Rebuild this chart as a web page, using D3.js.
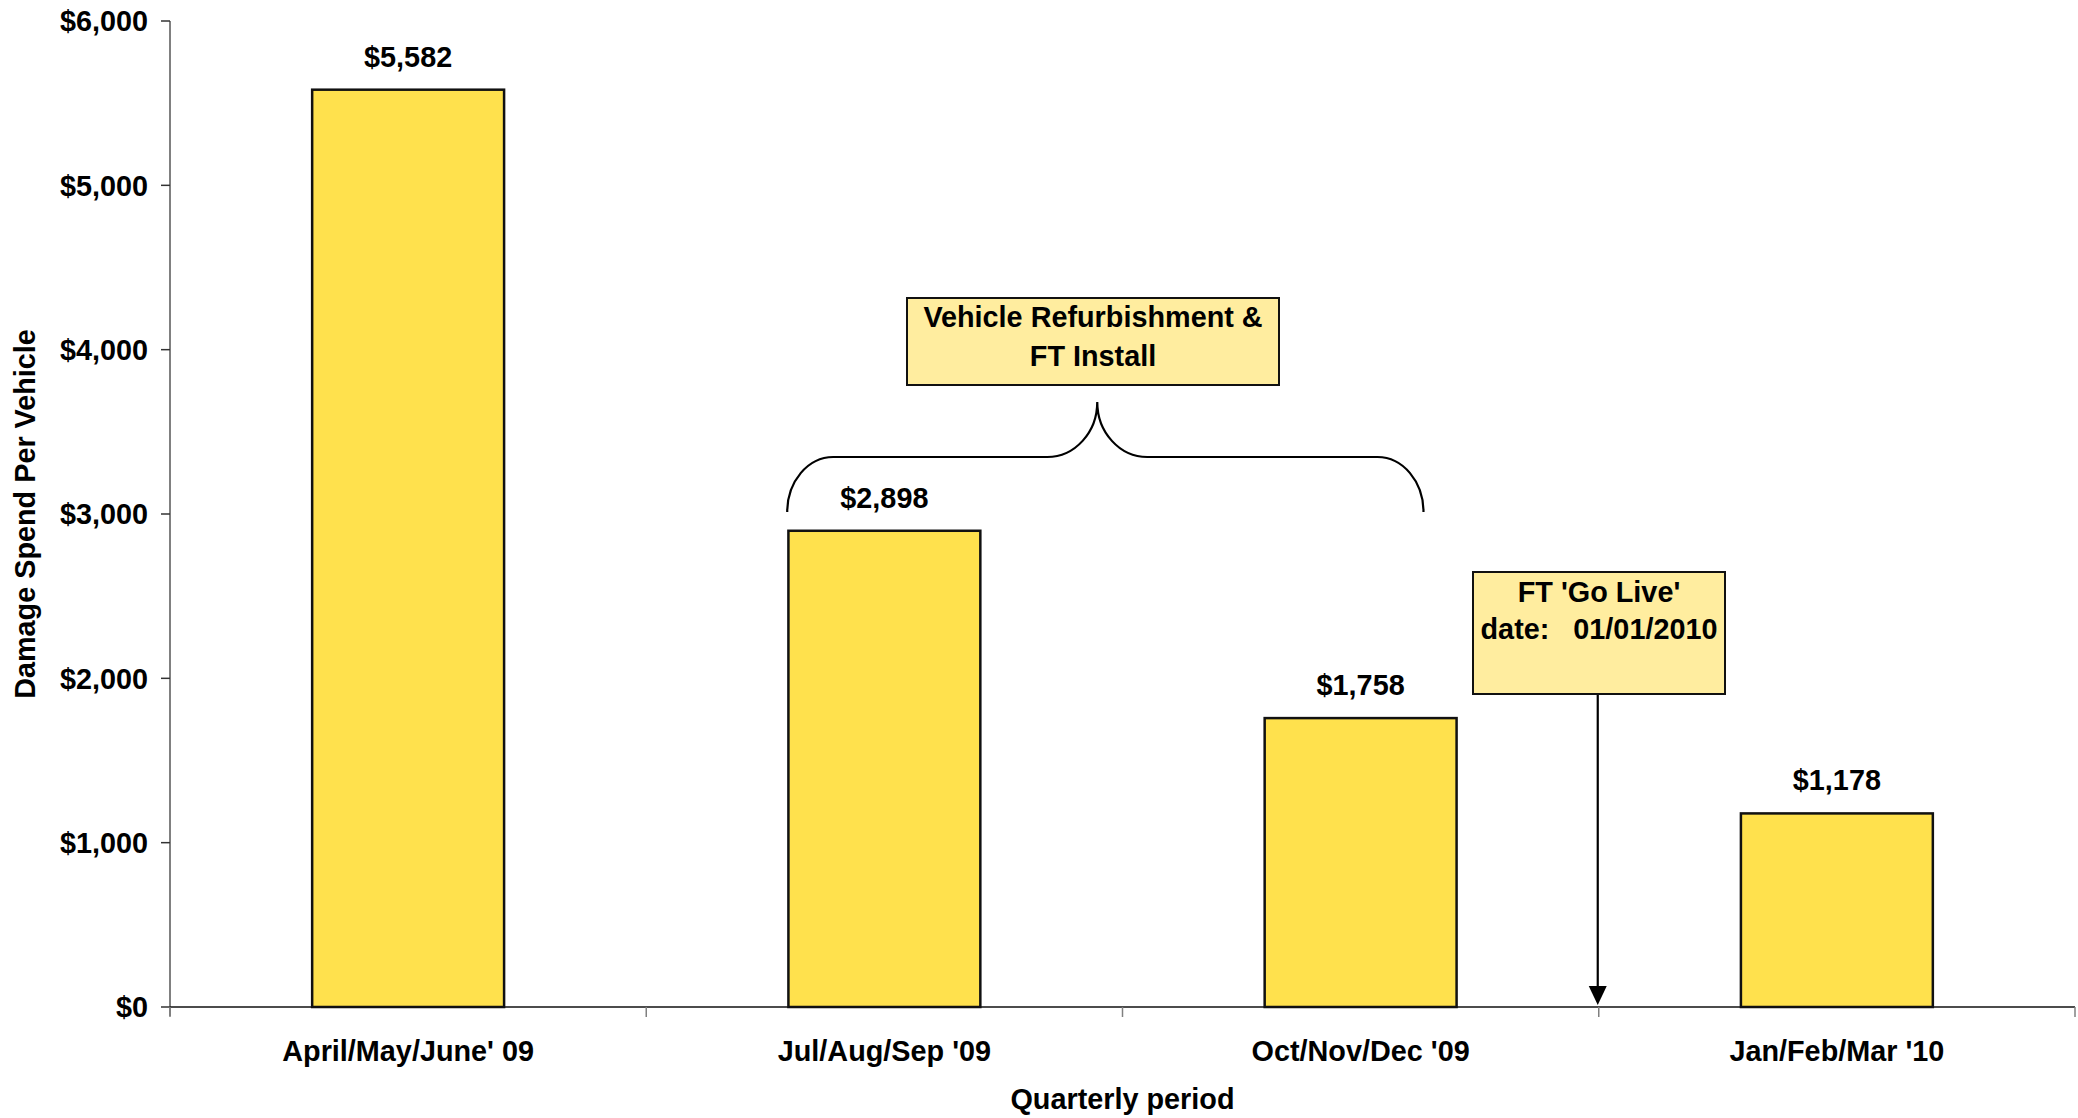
<!DOCTYPE html>
<html>
<head>
<meta charset="utf-8">
<script src="https://cdn.jsdelivr.net/npm/d3@7"></script>
<style>
  html, body { margin: 0; padding: 0; background: #fff; }
  svg { display: block; }
  text { font-family: "Liberation Sans", Arial, sans-serif; font-weight: bold; fill: #000; }
</style>
</head>
<body>
<script>
// ---- data ----
const categories = ["April/May/June' 09", "Jul/Aug/Sep '09", "Oct/Nov/Dec '09", "Jan/Feb/Mar '10"];
const values = [5582, 2898, 1758, 1178];
const yTickValues = [0, 1000, 2000, 3000, 4000, 5000, 6000];
const yTitle = "Damage Spend Per Vehicle";
const xTitle = "Quarterly period";
const note1Lines = ["Vehicle Refurbishment &", "FT Install"];
const note2Lines = ["FT 'Go Live'", "date:\u00A0\u00A0\u00A001/01/2010"];

(function () {
// ---- layout ----
const W = 2078, H = 1118;
const mLeft = 170, mRight = 2075, mTop = 21, mBottom = 1007;
const FS = 28.8;

const svg = d3.select("body").append("svg").attr("width", W).attr("height", H);

const x = d3.scaleBand().domain(categories).range([mLeft, mRight]).padding(0);
const y = d3.scaleLinear().domain([0, 6000]).range([mBottom, mTop]);
const bw = x.bandwidth();
const barW = bw * 0.403;
const fmt = v => "$" + d3.format(",")(v);

// y axis line
svg.append("line").attr("x1", mLeft).attr("x2", mLeft).attr("y1", mTop).attr("y2", mBottom + 9)
  .attr("stroke", "#808080").attr("stroke-width", 2);
// y ticks
svg.selectAll(".ytick").data(yTickValues).enter().append("line")
  .attr("x1", mLeft - 9).attr("x2", mLeft).attr("y1", d => y(d)).attr("y2", d => y(d))
  .attr("stroke", "#333").attr("stroke-width", 1.5);
svg.selectAll(".ylab").data(yTickValues).enter().append("text")
  .attr("x", mLeft - 22).attr("y", d => y(d)).attr("dy", "0.36em")
  .attr("text-anchor", "end").attr("font-size", FS).text(fmt);

// bars
svg.selectAll(".bar").data(values).enter().append("rect")
  .attr("x", (d, i) => x(categories[i]) + (bw - barW) / 2)
  .attr("y", d => y(d))
  .attr("width", barW)
  .attr("height", d => y(0) - y(d))
  .attr("fill", "#FFE14D").attr("stroke", "#111").attr("stroke-width", 2.5);

// bar labels
svg.selectAll(".blab").data(values).enter().append("text")
  .attr("x", (d, i) => x(categories[i]) + bw / 2)
  .attr("y", d => y(d) - 23)
  .attr("text-anchor", "middle").attr("font-size", FS).text(fmt);

// x axis line
svg.append("line").attr("x1", mLeft).attr("x2", mRight).attr("y1", mBottom).attr("y2", mBottom)
  .attr("stroke", "#111").attr("stroke-width", 1.5);
// x ticks at band boundaries
const bounds = categories.map(c => x(c)).concat([mRight]);
svg.selectAll(".xtick").data(bounds).enter().append("line")
  .attr("x1", d => d).attr("x2", d => d).attr("y1", mBottom).attr("y2", mBottom + 10)
  .attr("stroke", "#808080").attr("stroke-width", 1.5);
svg.selectAll(".xlab").data(categories).enter().append("text")
  .attr("x", d => x(d) + bw / 2).attr("y", 1061)
  .attr("text-anchor", "middle").attr("font-size", FS).text(d => d);

// axis titles
svg.append("text").attr("x", (mLeft + mRight) / 2).attr("y", 1109)
  .attr("text-anchor", "middle").attr("font-size", FS).text(xTitle);
svg.append("text").attr("transform", `translate(35, ${(mTop + mBottom) / 2}) rotate(-90)`)
  .attr("text-anchor", "middle").attr("font-size", FS).text(yTitle);

// ---- annotation 1: brace + box ----
const bx0 = x(categories[1]) + 0.296 * bw;   // left end
const bx1 = x(categories[2]) + 0.632 * bw;   // right end
const bpk = x(categories[1]) + 0.947 * bw;   // peak
const yEnd = 512, yH = 457, yPk = 402;
const k = 0.552;
const rx = 46, ry = yEnd - yH, px = 50, py = yH - yPk;
const brace = [
  `M ${bx0} ${yEnd}`,
  `C ${bx0} ${yEnd - k * ry}, ${bx0 + rx - k * rx} ${yH}, ${bx0 + rx} ${yH}`,
  `L ${bpk - px} ${yH}`,
  `C ${bpk - px + k * px} ${yH}, ${bpk} ${yPk + k * py}, ${bpk} ${yPk}`,
  `C ${bpk} ${yPk + k * py}, ${bpk + px - k * px} ${yH}, ${bpk + px} ${yH}`,
  `L ${bx1 - rx} ${yH}`,
  `C ${bx1 - rx + k * rx} ${yH}, ${bx1} ${yEnd - k * ry}, ${bx1} ${yEnd}`
].join(" ");
svg.append("path").attr("d", brace).attr("fill", "none").attr("stroke", "#000").attr("stroke-width", 2.2);

const b1 = { x0: 907, x1: 1279, y0: 298, y1: 385 };
svg.append("rect").attr("x", b1.x0).attr("y", b1.y0).attr("width", b1.x1 - b1.x0).attr("height", b1.y1 - b1.y0)
  .attr("fill", "#FFED9F").attr("stroke", "#111").attr("stroke-width", 2);
svg.selectAll(".n1").data(note1Lines).enter().append("text")
  .attr("x", (b1.x0 + b1.x1) / 2).attr("y", (d, i) => 327 + i * 39)
  .attr("text-anchor", "middle").attr("font-size", FS).text(d => d);

// ---- annotation 2: go-live box + arrow ----
const ax = x(categories[3]) - 1;
const b2 = { x0: 1473, x1: 1725, y0: 572, y1: 694 };
svg.append("line").attr("x1", ax).attr("x2", ax).attr("y1", b2.y1).attr("y2", 988)
  .attr("stroke", "#000").attr("stroke-width", 2.2);
svg.append("path").attr("d", `M ${ax - 9} 986 L ${ax + 9} 986 L ${ax} 1005 Z`).attr("fill", "#000");
svg.append("rect").attr("x", b2.x0).attr("y", b2.y0).attr("width", b2.x1 - b2.x0).attr("height", b2.y1 - b2.y0)
  .attr("fill", "#FFED9F").attr("stroke", "#111").attr("stroke-width", 2);
svg.selectAll(".n2").data(note2Lines).enter().append("text")
  .attr("x", (b2.x0 + b2.x1) / 2).attr("y", (d, i) => 602 + i * 37)
  .attr("text-anchor", "middle").attr("font-size", FS).text(d => d);
})();
</script>
</body>
</html>
